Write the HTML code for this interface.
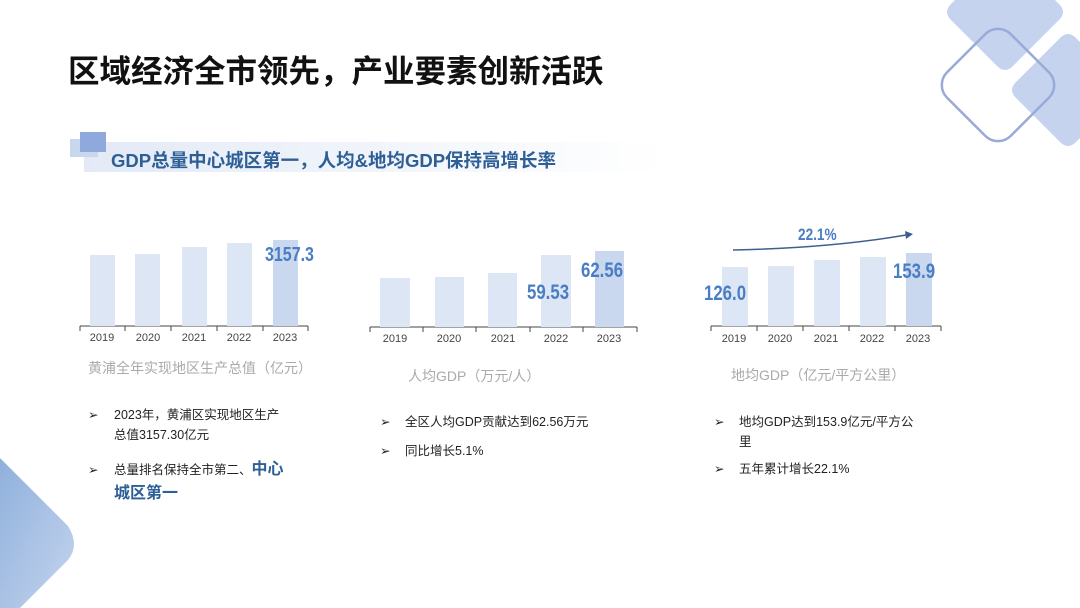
<!DOCTYPE html>
<html style="overflow:hidden;width:1080px;height:608px"><head><meta charset="utf-8"><style>
body{margin:0;width:1080px;height:608px;overflow:hidden;background:#fff;position:relative;font-family:"Liberation Sans","Noto Sans CJK SC",sans-serif;}
.a{position:absolute;white-space:nowrap}
.b{position:absolute;background:#dde6f5}
.d{background:#c9d7ef}
.yr{position:absolute;font-size:11px;color:#444;width:46px;text-align:center}
.val{position:absolute;font-family:"Liberation Sans Narrow","Liberation Sans",sans-serif;font-weight:bold;color:#4a7ec4;font-size:19px;transform:scaleX(0.8);transform-origin:left}
.cap{position:absolute;font-size:14px;color:#aaa}
.t{position:absolute;font-size:12.5px;color:#222;line-height:20px}
</style></head><body>
<svg class="a" style="left:0;top:0;display:block" width="1080" height="608">
<defs><linearGradient id="g1" x1="0" x2="1"><stop offset="0" stop-color="#e3eaf6"/><stop offset="1" stop-color="#fff"/></linearGradient>
<linearGradient id="g2" x1="0" y1="0" x2="1" y2="1"><stop offset="0" stop-color="#8fb0dc"/><stop offset="1" stop-color="#c4d4ee"/></linearGradient></defs>
<rect x="84" y="142" width="580" height="30" fill="url(#g1)"/>
<rect x="70" y="139" width="28" height="18" fill="#c8d6ee"/>
<rect x="80" y="132" width="26" height="20" fill="#8fa9dc"/>
<path d="M955 0 L1055 0 L1059 4 Q1067 12 1059 20 L1013 66 Q1005 74 997 66 L951 20 Q943 12 951 4 Z" fill="#c5d3ef"/>
<path d="M1080 42 L1076 38 Q1068 30 1060 38 L1016 82 Q1008 90 1016 98 L1060 142 Q1068 150 1076 142 L1080 138 Z" fill="#c5d3ef"/>
<rect x="953" y="40" width="90" height="90" rx="18" transform="rotate(45 998 85)" fill="none" stroke="#9aaad8" stroke-width="2.5"/>
<path d="M0 458 L68 526 Q80 545 68 560 L20 608 L0 608 Z" fill="url(#g2)"/>
<g stroke="#444" stroke-width="1" fill="none">
<path d="M80 326H308M80 326v5M125 326v5M171 326v5M217 326v5M263 326v5M308 326v5"/>
<path d="M370 327H637M370 327v5M423 327v5M476 327v5M530 327v5M583 327v5M637 327v5"/>
<path d="M711 326H941M711 326v5M757 326v5M803 326v5M849 326v5M895 326v5M941 326v5"/>
</g>
<path d="M733 250 Q830 248 906 235" stroke="#3d5f8f" stroke-width="1.5" fill="none"/>
<path d="M905 231 L913 234 L906 239 Z" fill="#3d5f8f"/>
</svg>
<div class="a" style="left:68px;top:46px;font-size:31.5px;font-weight:bold;color:#111">区域经济全市领先，产业要素创新活跃</div>
<div class="a" style="left:111px;top:147px;font-size:18.5px;font-weight:bold;color:#2d5f96">GDP总量中心城区第一，人均&amp;地均GDP保持高增长率</div>

<div class="b" style="left:90px;top:255px;width:25px;height:71px"></div>
<div class="b" style="left:135px;top:254px;width:25px;height:72px"></div>
<div class="b" style="left:182px;top:247px;width:25px;height:79px"></div>
<div class="b" style="left:227px;top:243px;width:25px;height:83px"></div>
<div class="b d" style="left:273px;top:240px;width:25px;height:86px"></div>
<div class="val" style="left:265px;top:244px;font-size:20px">3157.3</div>
<div class="yr" style="left:79px;top:332px">2019</div><div class="yr" style="left:125px;top:332px">2020</div><div class="yr" style="left:171px;top:332px">2021</div><div class="yr" style="left:216px;top:332px">2022</div><div class="yr" style="left:262px;top:332px">2023</div>
<div class="cap" style="left:88px;top:358px">黄浦全年实现地区生产总值（亿元）</div>

<div class="b" style="left:380px;top:278px;width:30px;height:49px"></div>
<div class="b" style="left:435px;top:277px;width:29px;height:50px"></div>
<div class="b" style="left:488px;top:273px;width:29px;height:54px"></div>
<div class="b" style="left:541px;top:255px;width:30px;height:72px"></div>
<div class="b d" style="left:595px;top:251px;width:29px;height:76px"></div>
<div class="val" style="left:527px;top:281px;font-size:21px">59.53</div>
<div class="val" style="left:581px;top:259px;font-size:21px">62.56</div>
<div class="yr" style="left:372px;top:333px">2019</div><div class="yr" style="left:426px;top:333px">2020</div><div class="yr" style="left:480px;top:333px">2021</div><div class="yr" style="left:533px;top:333px">2022</div><div class="yr" style="left:586px;top:333px">2023</div>
<div class="cap" style="left:408px;top:366px">人均GDP（万元/人）</div>

<div class="b" style="left:722px;top:267px;width:26px;height:59px"></div>
<div class="b" style="left:768px;top:266px;width:26px;height:60px"></div>
<div class="b" style="left:814px;top:260px;width:26px;height:66px"></div>
<div class="b" style="left:860px;top:257px;width:26px;height:69px"></div>
<div class="b d" style="left:906px;top:253px;width:26px;height:73px"></div>
<div class="val" style="left:704px;top:282px;font-size:21px">126.0</div>
<div class="val" style="left:893px;top:260px;font-size:21px">153.9</div>
<div class="val" style="left:798px;top:225px;font-size:17px">22.1%</div>
<div class="yr" style="left:711px;top:333px">2019</div><div class="yr" style="left:757px;top:333px">2020</div><div class="yr" style="left:803px;top:333px">2021</div><div class="yr" style="left:849px;top:333px">2022</div><div class="yr" style="left:895px;top:333px">2023</div>
<div class="cap" style="left:731px;top:365px">地均GDP（亿元/平方公里）</div>

<div class="t" style="left:88px;top:405px">➢</div>
<div class="t" style="left:114px;top:405px">2023年，黄浦区实现地区生产<br>总值3157.30亿元</div>
<div class="t" style="left:88px;top:460px">➢</div>
<div class="t" style="left:114px;top:460px">总量排名保持全市第二、<span style="font-size:16px;font-weight:bold;color:#2d5f96">中心</span></div>
<div class="t" style="left:114px;top:484px;font-size:16px;font-weight:bold;color:#2d5f96">城区第一</div>

<div class="t" style="left:380px;top:412px">➢</div>
<div class="t" style="left:405px;top:412px">全区人均GDP贡献达到62.56万元</div>
<div class="t" style="left:380px;top:441px">➢</div>
<div class="t" style="left:405px;top:441px">同比增长5.1%</div>

<div class="t" style="left:714px;top:412px">➢</div>
<div class="t" style="left:739px;top:412px">地均GDP达到153.9亿元/平方公<br>里</div>
<div class="t" style="left:714px;top:459px">➢</div>
<div class="t" style="left:739px;top:459px">五年累计增长22.1%</div>
</body></html>
